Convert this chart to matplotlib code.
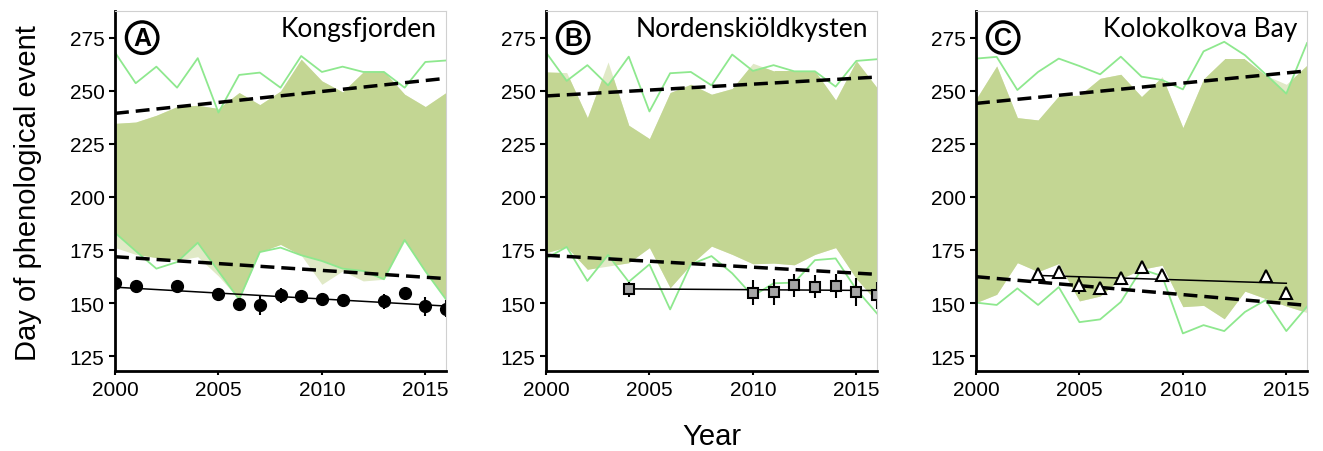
import numpy as np
import matplotlib.pyplot as plt

plt.rcParams['font.family'] = ['Liberation Sans', 'DejaVu Sans']

years = np.arange(2000, 2017)

# A - Kongsfjorden
kong_fill_hi = [234.6, 235.2, 238.4, 242.5, 243.1, 241.6, 249.1, 243.4, 249.8, 264.8, 254.6, 249.4, 258.8, 259.1, 248.3, 242.5, 249.1]
kong_fill_lo = [176.1, 172.9, 171.4, 170.2, 171.8, 162.7, 151.7, 174.0, 177.6, 172.5, 158.8, 165.1, 160.4, 161.2, 179.2, 165.0, 151.7]
kong_green_hi = [268.0, 253.5, 261.3, 251.4, 265.3, 239.7, 257.4, 258.5, 251.4, 266.3, 258.8, 261.3, 258.8, 258.8, 251.4, 263.5, 264.2]
kong_green_lo = [183.1, 174.5, 166.2, 169.3, 178.4, 165.0, 151.7, 174.0, 176.1, 172.5, 169.8, 166.2, 165.1, 161.2, 179.7, 165.0, 151.7]
kong_obs_years = [2000, 2001, 2003, 2005, 2006, 2007, 2008, 2009, 2010, 2011, 2013, 2014, 2015, 2016]
kong_obs_day = [159.3, 158.0, 158.0, 154.2, 149.5, 149.0, 153.6, 153.2, 151.7, 151.2, 150.8, 154.6, 148.5, 147.4]
kong_obs_err = [1.5, 2.5, 2.0, 1.0, 1.0, 4.5, 3.5, 1.5, 1.5, 2.0, 3.5, 1.5, 4.5, 4.0]
kong_dash_hi = [239.3, 255.8]
kong_dash_lo = [171.8, 161.5]

# B - Nordenskiöldkysten
nord_fill_hi = [258.8, 258.5, 237.3, 263.5, 233.7, 227.4, 249.1, 253.0, 248.3, 251.0, 262.9, 259.3, 259.3, 259.3, 245.6, 264.0, 251.4]
nord_fill_lo = [173.7, 176.4, 165.9, 167.4, 169.0, 176.1, 157.2, 168.2, 176.8, 172.9, 168.5, 168.8, 168.0, 172.9, 176.1, 161.5, 150.5]
nord_green_hi = [268.0, 254.6, 262.0, 252.5, 266.0, 240.2, 258.2, 258.8, 252.5, 267.0, 259.3, 262.0, 259.1, 259.1, 251.9, 264.0, 264.8]
nord_green_lo = [171.0, 176.4, 160.4, 172.6, 160.0, 168.2, 147.0, 168.2, 172.1, 164.0, 153.3, 159.3, 159.6, 170.2, 171.0, 156.4, 145.1]
nord_obs_years = [2004, 2010, 2011, 2012, 2013, 2014, 2015, 2016]
nord_obs_day = [156.4, 154.9, 155.2, 158.3, 157.7, 158.0, 155.2, 153.6]
nord_obs_err = [3.5, 6.0, 6.0, 5.5, 5.5, 5.5, 6.5, 6.5]
nord_dash_hi = [247.5, 256.4]
nord_dash_lo = [172.5, 163.5]

# C - Kolokolkova Bay
kolo_fill_hi = [246.0, 261.6, 237.3, 236.2, 247.5, 247.8, 255.8, 257.7, 247.2, 256.6, 232.6, 255.5, 264.8, 264.8, 257.2, 253.0, 262.0]
kolo_fill_lo = [150.2, 154.1, 169.0, 164.8, 168.6, 151.0, 153.3, 161.5, 165.9, 167.8, 148.3, 148.9, 142.6, 155.6, 152.1, 148.6, 145.5]
kolo_green_hi = [265.1, 265.9, 250.3, 258.8, 265.1, 261.6, 257.7, 266.0, 256.6, 255.0, 250.6, 268.5, 273.0, 266.7, 257.7, 248.6, 272.4]
kolo_green_lo = [150.2, 149.1, 156.9, 149.1, 157.5, 141.0, 142.3, 150.5, 165.9, 162.7, 135.7, 139.6, 136.8, 145.8, 151.4, 136.8, 148.3]
kolo_obs_years = [2003, 2004, 2005, 2006, 2007, 2008, 2009, 2014, 2015]
kolo_obs_day = [163.6, 164.8, 158.4, 156.9, 162.0, 167.1, 163.0, 162.7, 154.9]
kolo_obs_err = [1.5, 1.5, 4.0, 2.0, 2.0, 1.5, 1.5, 2.0, 2.0]
kolo_dash_hi = [244.0, 259.3]
kolo_dash_lo = [162.4, 148.9]

OLIVE = '#c3d693'
PALE = '#e0e9c6'
GREEN = '#8ee88e'

panels = [
    ('A', 'Kongsfjorden', kong_fill_lo, kong_fill_hi, kong_green_lo, kong_green_hi,
     kong_obs_years, kong_obs_day, kong_obs_err, kong_dash_lo, kong_dash_hi,
     dict(marker='o', ms=8.5, mfc='black', mec='black')),
    ('B', 'Nordenskiöldkysten', nord_fill_lo, nord_fill_hi, nord_green_lo, nord_green_hi,
     nord_obs_years, nord_obs_day, nord_obs_err, nord_dash_lo, nord_dash_hi,
     dict(marker='s', ms=6.5, mfc='#a6a6a6', mec='black', mew=1.5)),
    ('C', 'Kolokolkova Bay', kolo_fill_lo, kolo_fill_hi, kolo_green_lo, kolo_green_hi,
     kolo_obs_years, kolo_obs_day, kolo_obs_err, kolo_dash_lo, kolo_dash_hi,
     dict(marker='^', ms=9, mfc='white', mec='black', mew=1.5)),
]

fig = plt.figure(figsize=(13.23, 4.52), dpi=100)
W, H = 1323, 452
lefts = [115, 546, 976]

for left, (letter, title, f_lo, f_hi, g_lo, g_hi, oy, od, oe, d_lo, d_hi, mk) in zip(lefts, panels):
    ax = fig.add_axes([left / W, 80 / H, 331 / W, 360 / H])

    # pale fill = whole range, olive = part inside the green envelope
    ax.fill_between(years, f_lo, f_hi, color=PALE, lw=0)
    env = ax.fill_between(years, g_lo, g_hi, facecolor='none', edgecolor='none')
    clip = env.get_paths()[0]
    env.remove()
    olive = ax.fill_between(years, f_lo, f_hi, color=OLIVE, lw=0)
    olive.set_clip_path(clip, ax.transData)

    ax.plot(years, g_hi, color=GREEN, lw=1.3)
    ax.plot(years, g_lo, color=GREEN, lw=1.3)

    ax.plot([2000, 2016], d_hi, color='black', lw=2.5, dashes=(4, 2))
    ax.plot([2000, 2016], d_lo, color='black', lw=2.5, dashes=(4, 2))

    b1, b0 = np.polyfit(oy, od, 1)
    xs = np.array([min(oy), max(oy)])
    ax.plot(xs, b0 + b1 * xs, color='black', lw=1.1)
    ax.errorbar(oy, od, yerr=oe, fmt='none', ecolor='black', elinewidth=1.5, capsize=0)
    ax.plot(oy, od, ls='none', **mk)

    ax.set_xlim(2000, 2016)
    ax.set_ylim(118, 287.5)
    ax.set_xticks([2000, 2005, 2010, 2015])
    ax.set_yticks([125, 150, 175, 200, 225, 250, 275])
    ax.tick_params(axis='both', labelsize=15, direction='out', width=1.5)
    ax.tick_params(axis='y', length=4)
    ax.tick_params(axis='x', length=3)
    for s in ['left', 'bottom']:
        ax.spines[s].set_linewidth(2)
    for s in ['top', 'right']:
        ax.spines[s].set_color('#d0d0d0')
        ax.spines[s].set_linewidth(0.8)

    ax.text(0.082, 0.926, letter, transform=ax.transAxes, ha='center', va='center',
            fontsize=18, fontweight='bold',
            bbox=dict(boxstyle='circle,pad=0.15', fc='white', ec='black', lw=2.4))
    ax.text(0.972, 0.93, title, transform=ax.transAxes, ha='right', va='baseline',
            fontsize=19, family=['Lato', 'DejaVu Sans'])

fig.text(0.021, 0.572, 'Day of phenological event', rotation=90, ha='center', va='center', fontsize=21)
fig.text(0.538, 0.033, 'Year', ha='center', va='center', fontsize=21)

fig.savefig('out.png', dpi=100)
